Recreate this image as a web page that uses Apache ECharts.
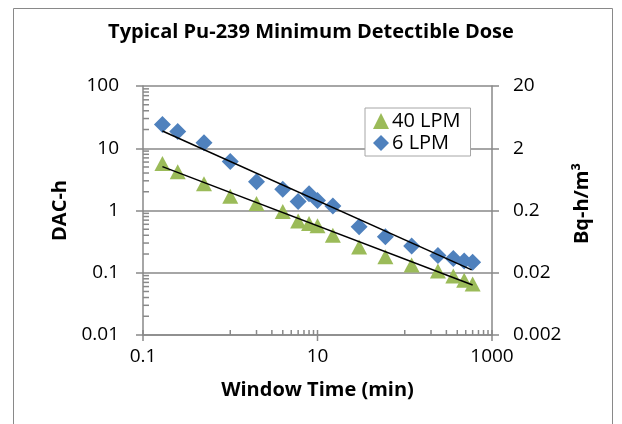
<!DOCTYPE html>
<html>
<head>
<meta charset="utf-8">
<script src="https://cdn.jsdelivr.net/npm/echarts@6/dist/echarts.min.js"></script>
<style>
  html, body { margin: 0; padding: 0; background: #fff; }
  #main { width: 622px; height: 424px; }
</style>
</head>
<body>
<div id="main"></div>
<script>
// window time (min)
const windowTime = [0.167, 0.25, 0.5, 1, 2, 4, 6, 8, 10, 15, 30, 60, 120, 240, 360, 480, 600];
// DAC-h values
const lpm40 = [5.7, 4.2, 2.7, 1.7, 1.3, 0.96, 0.68, 0.62, 0.57, 0.4, 0.26, 0.18, 0.133, 0.107, 0.089, 0.076, 0.066];
const lpm6 = [24, 18.5, 12.3, 6.1, 2.9, 2.2, 1.4, 1.85, 1.45, 1.18, 0.55, 0.38, 0.27, 0.19, 0.17, 0.155, 0.148];
// power trendlines (end points)
const trend40 = [[0.167, 5.06], [600, 0.0635]];
const trend6 = [[0.167, 18.9], [585, 0.111]];

const leftLabels = ['0.01', '0.1', '1', '10', '100'];
const rightLabels = ['0.002', '0.02', '0.2', '2', '20'];
const xLabels = { '-1': '0.1', '1': '10', '3': '1000' };

const FONT = 'Open Sans';
const GRAY = '#898989';

// minor / major tick marks like the Excel chart
const tickMarks = [];
for (let k = -2; k <= 1; k++) {
  for (let m = 2; m <= 9; m++) tickMarks.push([0.1, m * Math.pow(10, k), 0]);
}
[1, 2, 3, 4, 5, 6, 7, 8, 9, 100, 200, 300, 400, 500, 600, 700, 800, 900].forEach(v => tickMarks.push([v, 0.01, 1]));
[0.1, 10, 1000].forEach(v => tickMarks.push([v, 0.01, 2]));

const zip = (xs, ys) => xs.map((x, i) => [x, ys[i]]);
const dec = v => Math.round(Math.log10(v));

let myChart = echarts.init(document.getElementById('main'));

myChart.setOption({
  animation: false,
  textStyle: { fontFamily: FONT },
  title: {
    text: 'Typical Pu-239 Minimum Detectible Dose',
    left: 'center',
    top: 22,
    padding: 0,
    textStyle: { fontFamily: FONT, fontSize: 20, fontWeight: 'bold', color: '#000' }
  },
  graphic: [{
    type: 'rect',
    shape: { x: 13.5, y: 8.5, width: 599, height: 430 },
    style: { fill: 'none', stroke: GRAY, lineWidth: 1 },
    silent: true
  }],
  legend: {
    orient: 'vertical',
    left: 365,
    top: 108,
    padding: [3, 10, 3, 8],
    itemGap: 2,
    itemWidth: 16,
    itemHeight: 16,
    backgroundColor: '#fff',
    borderColor: '#a6a6a6',
    borderWidth: 1,
    borderRadius: 0,
    data: ['40 LPM', '6 LPM'],
    textStyle: { fontFamily: FONT, fontSize: 20, color: '#000', padding: [0, 0, 0, -2] }
  },
  grid: { left: 143, right: 130, top: 86, bottom: 89, containLabel: false },
  xAxis: {
    type: 'log',
    logBase: 10,
    min: 0.1,
    max: 1000,
    name: 'Window Time (min)',
    nameLocation: 'middle',
    nameGap: 45,
    nameTextStyle: { fontFamily: FONT, fontSize: 20, fontWeight: 'bold', color: '#000' },
    axisLine: { lineStyle: { color: GRAY, width: 1.5 } },
    axisTick: { show: false },
    splitLine: { show: false },
    axisLabel: {
      margin: 12,
      fontSize: 19,
      color: '#000',
      formatter: v => xLabels[dec(v)] || ''
    }
  },
  yAxis: [{
    type: 'log',
    logBase: 10,
    min: 0.01,
    max: 100,
    position: 'left',
    name: 'DAC-h',
    nameLocation: 'middle',
    nameRotate: 90,
    nameGap: 72,
    nameTextStyle: { fontFamily: FONT, fontSize: 20, fontWeight: 'bold', color: '#000' },
    axisLine: { show: true, lineStyle: { color: GRAY, width: 1.5 } },
    axisTick: { show: true, length: 7, lineStyle: { color: GRAY, width: 1.5 } },
    splitLine: { show: true, lineStyle: { color: GRAY, width: 1.5 } },
    axisLabel: {
      margin: 24,
      fontSize: 19,
      color: '#000',
      formatter: v => leftLabels[dec(v) + 2]
    }
  }, {
    type: 'log',
    logBase: 10,
    min: 0.01,
    max: 100,
    position: 'right',
    name: 'Bq-h/m³',
    nameLocation: 'middle',
    nameRotate: 90,
    nameGap: 74,
    nameTextStyle: { fontFamily: FONT, fontSize: 20, fontWeight: 'bold', color: '#000', padding: [0, 0, 0, 14] },
    axisLine: { show: true, lineStyle: { color: GRAY, width: 1.5 } },
    axisTick: { show: true, length: 7, lineStyle: { color: GRAY, width: 1.5 } },
    splitLine: { show: false },
    axisLabel: {
      margin: 21,
      fontSize: 19,
      color: '#000',
      formatter: v => rightLabels[dec(v) + 2]
    }
  }],
  series: [{
    type: 'custom',
    silent: true,
    z: 1,
    data: tickMarks,
    renderItem: (params, api) => {
      const p = api.coord([api.value(0), api.value(1)]);
      const kind = api.value(2);
      let shape;
      if (kind === 0) shape = { x1: p[0], y1: p[1], x2: p[0] + 6, y2: p[1] };
      else if (kind === 1) shape = { x1: p[0], y1: p[1], x2: p[0], y2: p[1] - 5 };
      else shape = { x1: p[0], y1: p[1] - 5, x2: p[0], y2: p[1] + 6 };
      return { type: 'line', shape: shape, style: { stroke: GRAY, lineWidth: 1.5 } };
    }
  }, {
    name: '40 LPM',
    type: 'scatter',
    symbol: 'triangle',
    symbolSize: [16, 15],
    itemStyle: { color: '#9bbb59', opacity: 1 },
    z: 3,
    data: zip(windowTime, lpm40)
  }, {
    name: '6 LPM',
    type: 'scatter',
    symbol: 'diamond',
    symbolSize: [17, 17],
    itemStyle: { color: '#4f81bd', opacity: 1 },
    z: 3,
    data: zip(windowTime, lpm6)
  }, {
    type: 'line',
    data: trend40,
    showSymbol: false,
    silent: true,
    z: 4,
    lineStyle: { color: '#000', width: 1.5 }
  }, {
    type: 'line',
    data: trend6,
    showSymbol: false,
    silent: true,
    z: 4,
    lineStyle: { color: '#000', width: 1.5 }
  }]
});

window.onresize = function () {
  myChart.resize();
};
</script>
</body>
</html>
